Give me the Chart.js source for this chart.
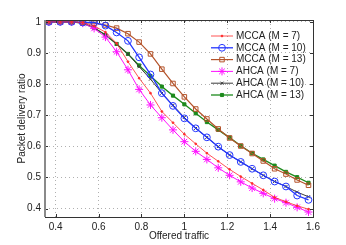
<!DOCTYPE html>
<html>
<head>
<meta charset="utf-8">
<script src="https://cdn.jsdelivr.net/npm/chart.js@4.4.1/dist/chart.umd.min.js"></script>
<style>
  html,body{margin:0;padding:0;background:#fff;}
  #wrap{width:346px;height:245px;position:relative;}
</style>
</head>
<body>
<div id="wrap"><canvas id="chart"></canvas></div>
<script>
// DATA
const traffic = [0.368,0.421,0.474,0.526,0.579,0.632,0.684,0.737,0.789,0.842,0.895,0.947,1.0,1.053,1.105,1.158,1.211,1.263,1.316,1.368,1.421,1.474,1.526,1.579];
const mcca7  = [1,1,1,0.998,0.987,0.967,0.931,0.872,0.819,0.771,0.712,0.676,0.639,0.608,0.578,0.552,0.526,0.503,0.481,0.460,0.436,0.422,0.409,0.398];
const mcca10 = [1,1,1,0.998,0.998,0.988,0.966,0.939,0.886,0.831,0.771,0.730,0.690,0.658,0.629,0.599,0.572,0.550,0.528,0.507,0.487,0.471,0.442,0.428];
const mcca13 = [1,1,1,0.998,0.996,0.990,0.980,0.962,0.935,0.897,0.848,0.802,0.759,0.720,0.688,0.656,0.627,0.601,0.577,0.553,0.528,0.511,0.492,0.475];
const ahca7  = [1,1,1,0.996,0.979,0.951,0.904,0.846,0.783,0.733,0.692,0.653,0.615,0.584,0.558,0.531,0.507,0.486,0.466,0.449,0.432,0.419,0.404,0.389];
const ahca10 = [1,1,1,0.996,0.981,0.958,0.929,0.897,0.856,0.816,0.771,0.732,0.693,0.658,0.629,0.599,0.572,0.550,0.528,0.507,0.487,0.471,0.453,0.438];
const ahca13 = [1,1,1,0.996,0.981,0.958,0.929,0.897,0.860,0.826,0.792,0.763,0.735,0.706,0.678,0.653,0.628,0.602,0.578,0.558,0.538,0.518,0.501,0.483];
const xTicks = [0.4,0.6,0.8,1.0,1.2,1.4,1.6];
const yTicks = [0.4,0.5,0.6,0.7,0.8,0.9,1.0];

const FONT = "'Liberation Sans', Arial, sans-serif";

function pts(ys){ return ys.map((y,i)=>({x:traffic[i],y:y})); }

function ds(label, ys, color, style, radius, width, fill){
  return {
    label:label, data:pts(ys), borderColor:color, borderWidth:width,
    pointStyle:style, pointRadius:radius, pointBorderColor:color,
    pointBackgroundColor: fill ? color : 'rgba(0,0,0,0)', pointBorderWidth:1,
    tension:0, fill:false
  };
}

const datasets = [
  ds('MCCA (M = 7)',  mcca7,  '#ff2a2a', 'circle', 0.9, 0.8, true),
  ds('MCCA (M = 10)', mcca10, '#2436ff', 'circle', 3.4, 1.3, false),
  ds('MCCA (M = 13)', mcca13, '#b4532a', 'rect',   3.2, 1.2, false),
  ds('AHCA (M = 7)',  ahca7,  '#ff10ff', 'star',   4,   1.0, false),
  ds('AHCA (M = 10)', ahca10, '#3c3c3c', 'crossRot', 2.2, 1.0, false),
  ds('AHCA (M = 13)', ahca13, '#1c8a1c', 'rect',   2.2, 1.3, true)
];

// frame, inner ticks, legend
const extras = {
  id:'extras',
  afterDraw(chart){
    const ctx = chart.ctx, a = chart.chartArea;
    const xs = chart.scales.x, ys = chart.scales.y;
    ctx.save();
    ctx.strokeStyle = '#333'; ctx.lineWidth = 1;
    ctx.beginPath();
    xTicks.forEach(v=>{
      const px = Math.round(xs.getPixelForValue(v))+0.5;
      ctx.moveTo(px,a.bottom); ctx.lineTo(px,a.bottom-3);
      ctx.moveTo(px,a.top); ctx.lineTo(px,a.top+3);
    });
    yTicks.forEach(v=>{
      const py = Math.round(ys.getPixelForValue(v))+0.5;
      ctx.moveTo(a.left,py); ctx.lineTo(a.left+3,py);
      ctx.moveTo(a.right,py); ctx.lineTo(a.right-3,py);
    });
    ctx.stroke();
    ctx.strokeRect(Math.round(a.left)+0.5, Math.round(a.top)+0.5, Math.round(a.right-a.left), Math.round(a.bottom-a.top));
    ctx.strokeStyle = '#8a8a8a'; ctx.lineWidth = 2;
    ctx.beginPath(); ctx.moveTo(a.left,a.top); ctx.lineTo(a.left,a.bottom); ctx.stroke();

    // legend
    ctx.font = '10px ' + FONT;
    ctx.textBaseline = 'middle';
    chart.data.datasets.forEach((d,i)=>{
      const y = 36 + i*11.8;
      ctx.strokeStyle = d.borderColor; ctx.lineWidth = d.borderWidth;
      ctx.beginPath(); ctx.moveTo(211,y); ctx.lineTo(233,y); ctx.stroke();
      ctx.fillStyle = d.pointBackgroundColor; ctx.strokeStyle = d.borderColor; ctx.lineWidth = 1;
      Chart.helpers.drawPoint(ctx, {pointStyle:d.pointStyle, radius:d.pointRadius, borderWidth:1, rotation:0}, 222, y);
      ctx.fillStyle = '#222';
      ctx.fillText(d.label, 236, y);
    });
    ctx.restore();
  }
};

new Chart(document.getElementById('chart'), {
  type:'line',
  data:{datasets:datasets},
  options:{
    responsive:true, maintainAspectRatio:false, animation:false,
    layout:{padding:{top:20,right:33,left:0,bottom:0}},
    plugins:{legend:{display:false}, tooltip:{enabled:false}},
    scales:{
      x:{
        type:'linear', min:0.35, max:1.6,
        afterBuildTicks(s){ s.ticks = xTicks.map(v=>({value:v})); },
        afterFit(s){ s.height = 28; },
        grid:{color:'#b0b0b0', drawTicks:false, lineWidth:1},
        border:{display:false, dash:[1,3]},
        ticks:{padding:4, color:'#222', font:{family:FONT,size:10}, maxRotation:0,
          callback:v=>Number(v.toFixed(1)).toString()},
        title:{display:true, text:'Offered traffic', color:'#222', font:{family:FONT,size:10}, padding:{top:0,bottom:3}}
      },
      y:{
        type:'linear', min:0.373, max:1.006,
        afterBuildTicks(s){ s.ticks = yTicks.map(v=>({value:v})); },
        afterFit(s){ s.width = 45; },
        grid:{color:'#b0b0b0', drawTicks:false, lineWidth:1},
        border:{display:false, dash:[1,3]},
        ticks:{padding:4, color:'#222', font:{family:FONT,size:10},
          callback:v=>Number(v.toFixed(1)).toString()},
        title:{display:true, text:'Packet delivery ratio', color:'#222', font:{family:FONT,size:10}, padding:{top:16,bottom:0}}
      }
    }
  },
  plugins:[extras]
});
</script>
</body>
</html>
